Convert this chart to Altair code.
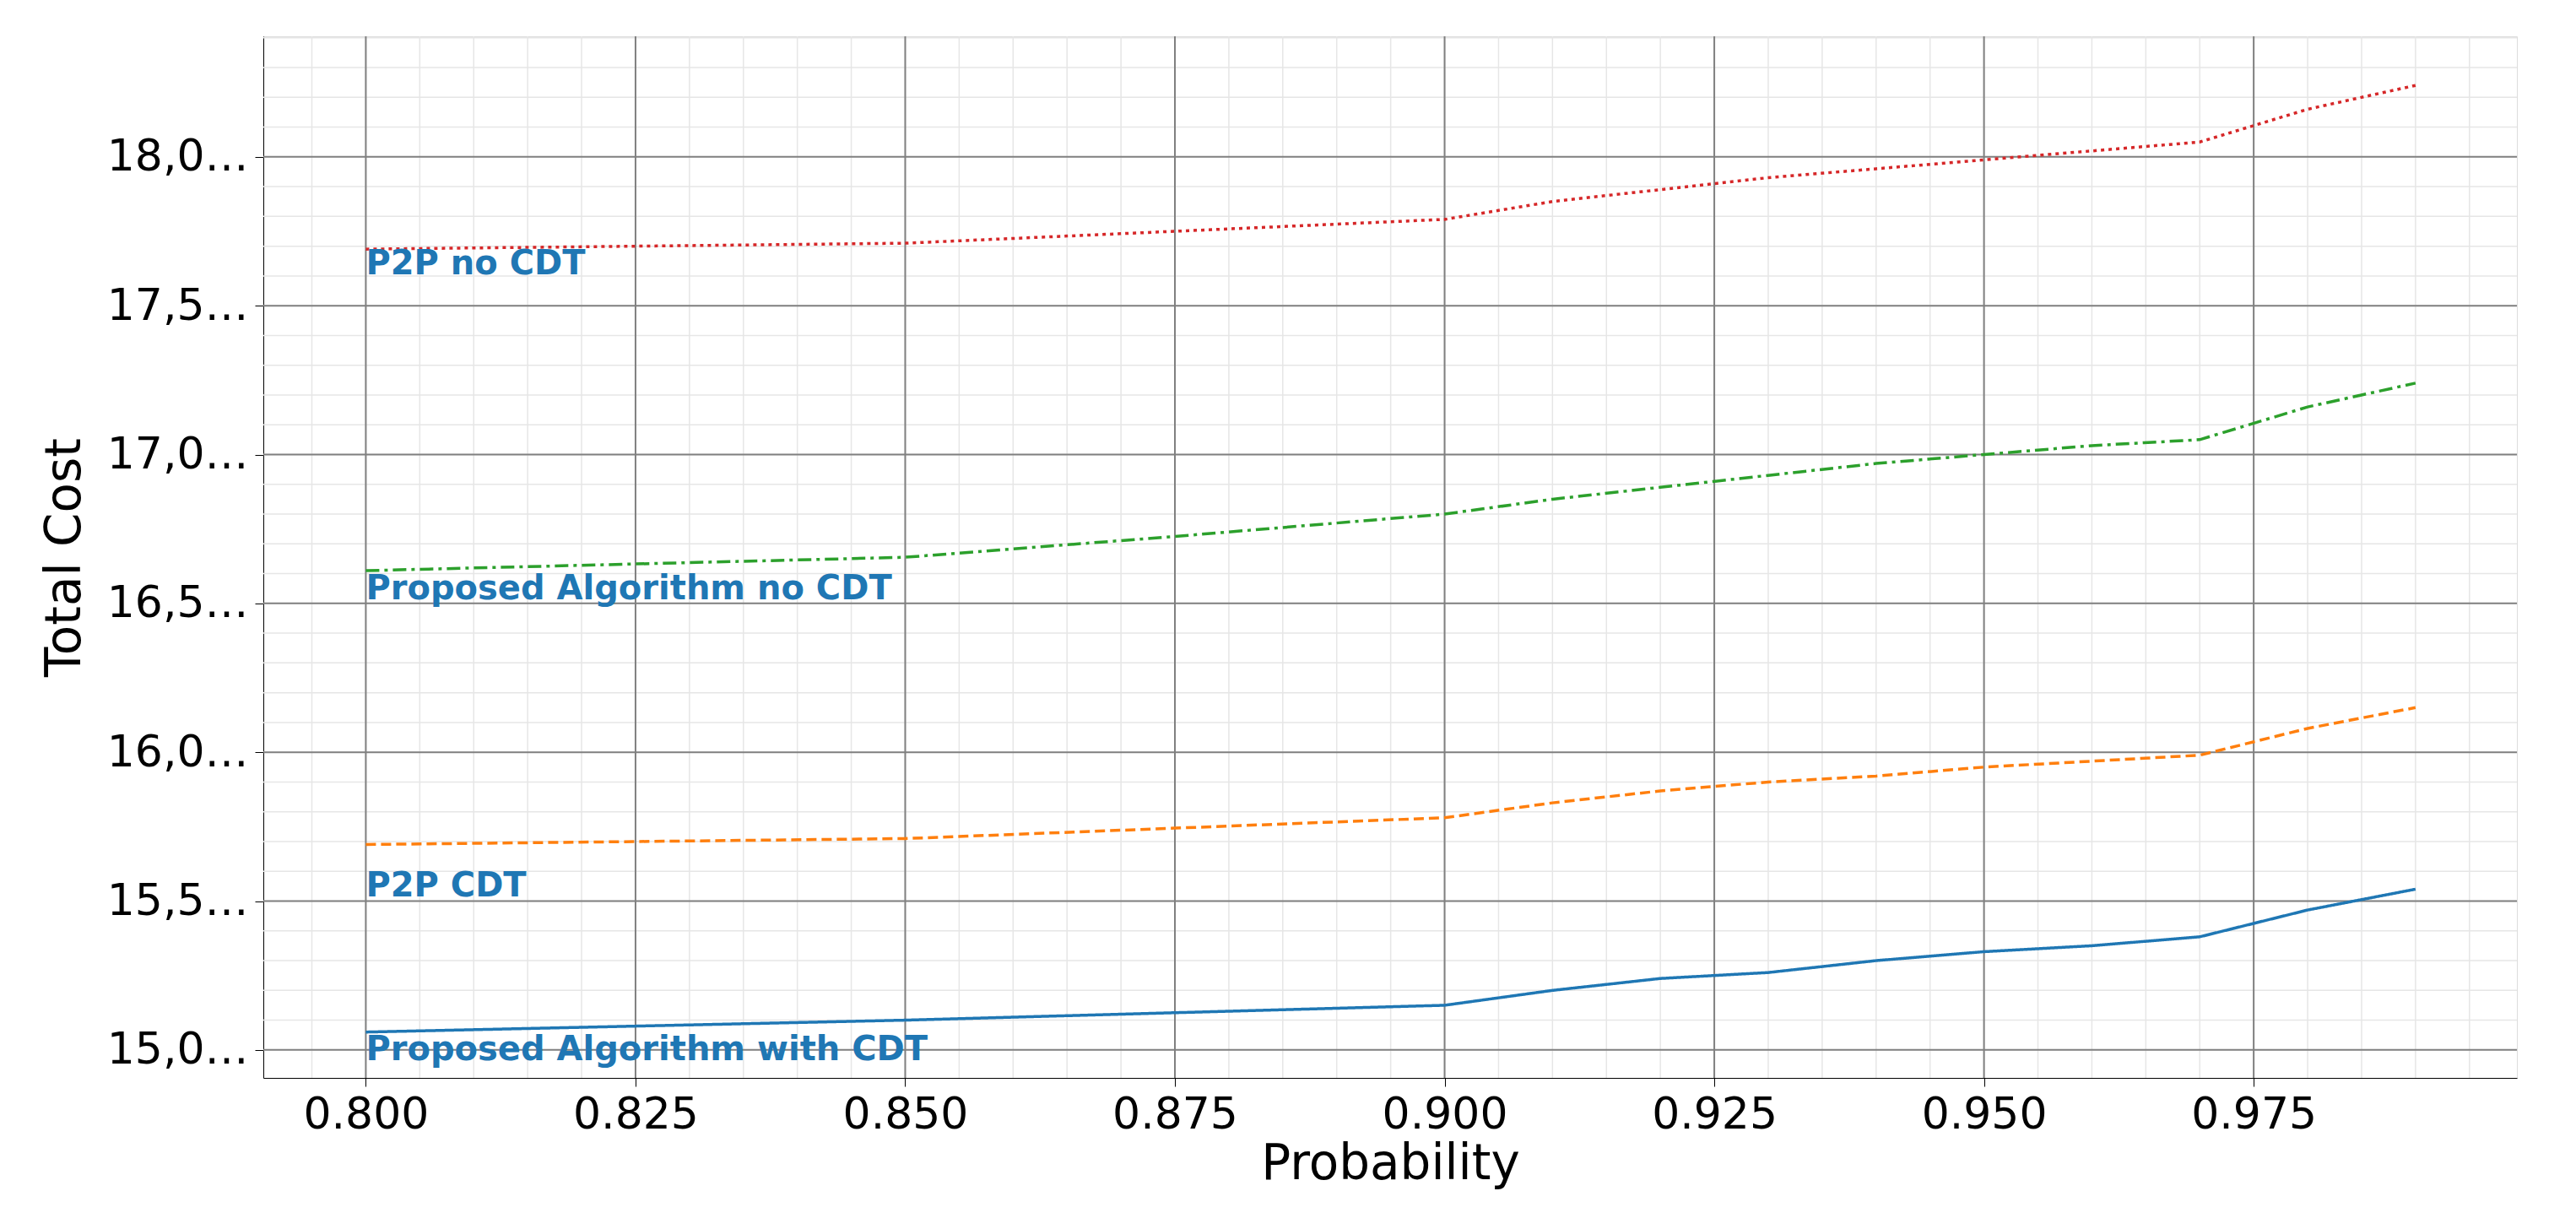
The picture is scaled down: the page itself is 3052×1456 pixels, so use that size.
import altair as alt
import pandas as pd

probs = [0.80, 0.85, 0.875, 0.90, 0.91, 0.92, 0.93, 0.94, 0.95, 0.96, 0.97, 0.98, 0.99]
proposed_cdt = [15060, 15100, 15125, 15150, 15200, 15240, 15260, 15300, 15330, 15350, 15380, 15470, 15540]
p2p_cdt = [15690, 15710, 15745, 15780, 15830, 15870, 15900, 15920, 15950, 15970, 15990, 16080, 16150]
proposed_nocdt = [16610, 16655, 16725, 16800, 16850, 16890, 16930, 16970, 17000, 17030, 17050, 17160, 17240]
p2p_nocdt = [17690, 17710, 17750, 17790, 17850, 17890, 17930, 17960, 17990, 18020, 18050, 18160, 18240]

series = ["Proposed Algorithm with CDT", "P2P CDT", "Proposed Algorithm no CDT", "P2P no CDT"]
values = [proposed_cdt, p2p_cdt, proposed_nocdt, p2p_nocdt]
colors = ["#1f77b4", "#ff7f0e", "#2ca02c", "#d62728"]
dashes = [[1, 0], [12, 6], [16, 6, 4, 6], [4, 5]]
label_y = [15000, 15549, 16547, 17640]

XD = [0.7905, 0.9994]
YD = [14906, 18405]

x_major = [0.8, 0.825, 0.85, 0.875, 0.9, 0.925, 0.95, 0.975]
y_major = [15000, 15500, 16000, 16500, 17000, 17500, 18000]
x_minor = [round(0.79 + 0.005 * i, 3) for i in range(43) if 0.7905 < 0.79 + 0.005 * i < 0.9994]
y_minor = [14900 + 100 * i for i in range(36) if 14906 < 14900 + 100 * i < 18405]

xs = alt.Scale(domain=XD, nice=False, zero=False)
ys = alt.Scale(domain=YD, nice=False, zero=False)

ax_x = alt.Axis(values=x_major, format=".3f", grid=False, labelFontSize=52, titleFontSize=58,
                titleFontWeight="normal", tickSize=10, tickColor="black", domainColor="black",
                labelColor="black", titleColor="black", labelPadding=8, titleFont="DejaVu Sans",
                labelFont="DejaVu Sans")
ax_y = alt.Axis(values=y_major, format=",d", grid=False, labelFontSize=52, titleFontSize=58,
                titleFontWeight="normal", tickSize=10, tickColor="black", domainColor="black",
                labelColor="black", titleColor="black", labelPadding=8, titleFont="DejaVu Sans",
                labelFont="DejaVu Sans", titlePadding=20)

minor_x = alt.Chart(pd.DataFrame({"x": x_minor})).mark_rule(color="#e6e6e6", strokeWidth=1.5).encode(
    x=alt.X("x:Q", scale=xs, axis=ax_x, title="Probability"))
minor_y = alt.Chart(pd.DataFrame({"y": y_minor})).mark_rule(color="#e6e6e6", strokeWidth=1.5).encode(
    y=alt.Y("y:Q", scale=ys, axis=ax_y, title="Total Cost"))
major_x = alt.Chart(pd.DataFrame({"x": x_major})).mark_rule(color="#808080", strokeWidth=2).encode(
    x=alt.X("x:Q", scale=xs))
major_y = alt.Chart(pd.DataFrame({"y": y_major})).mark_rule(color="#808080", strokeWidth=2).encode(
    y=alt.Y("y:Q", scale=ys))

layers = [minor_x, minor_y, major_x, major_y]
for name, vals, c, d in zip(series, values, colors, dashes):
    df = pd.DataFrame({"p": probs, "v": vals})
    layers.append(alt.Chart(df).mark_line(color=c, strokeWidth=3.5, strokeDash=d).encode(
        x=alt.X("p:Q", scale=xs), y=alt.Y("v:Q", scale=ys)))

lab = pd.DataFrame({"p": [0.8] * 4, "v": label_y, "t": series})
layers.append(alt.Chart(lab).mark_text(align="left", baseline="middle", fontSize=40, fontWeight="bold",
                                       color="#1f77b4", font="DejaVu Sans").encode(
    x=alt.X("p:Q", scale=xs), y=alt.Y("v:Q", scale=ys), text="t:N"))

chart = alt.layer(*layers).properties(
    width=2670, height=1234,
    padding={"left": 40, "top": 34, "right": 5, "bottom": 5},
).configure_view(stroke="black", strokeWidth=2).configure(background="white")

chart.save("out.html", embed_options={"renderer": "svg", "actions": False})
